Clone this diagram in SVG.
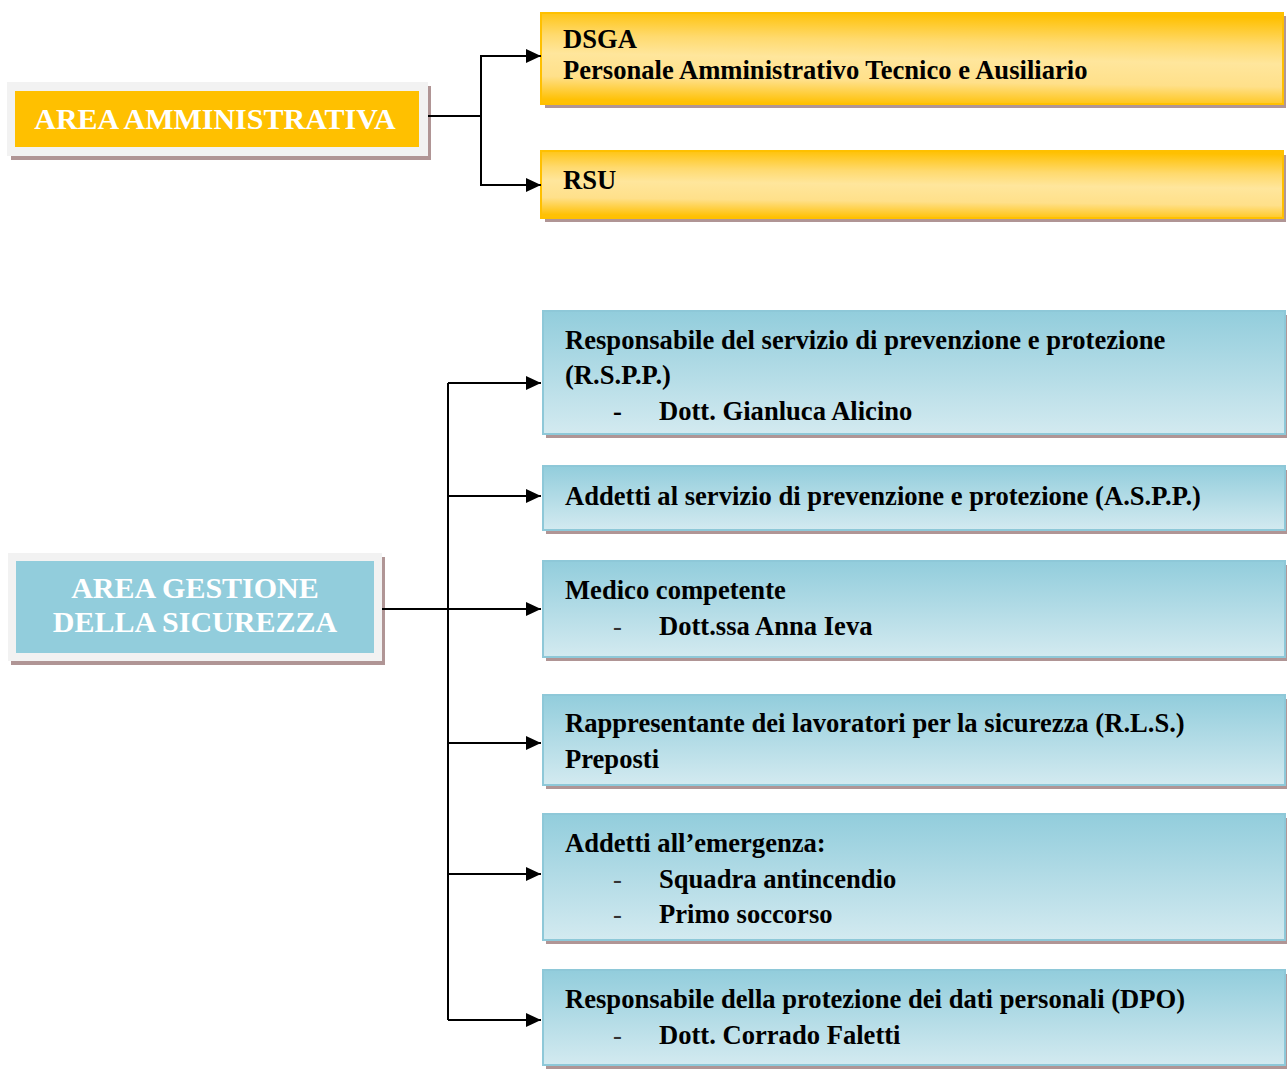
<svg xmlns="http://www.w3.org/2000/svg" width="1287" height="1072" viewBox="0 0 1287 1072">
<defs>
<linearGradient id="gy" x1="0.56" y1="0" x2="0.44" y2="1">
<stop offset="0" stop-color="#ffc000"/>
<stop offset="0.3" stop-color="#ffda6e"/>
<stop offset="0.5" stop-color="#ffe69c"/>
<stop offset="0.75" stop-color="#ffe08a"/>
<stop offset="1" stop-color="#ffc105"/>
</linearGradient>
<linearGradient id="gb" x1="0" y1="0" x2="0" y2="1">
<stop offset="0" stop-color="#92cddc"/>
<stop offset="1" stop-color="#d3eaf0"/>
</linearGradient>
<marker id="ah" viewBox="0 0 15 14" refX="15" refY="7" markerWidth="15" markerHeight="14" markerUnits="userSpaceOnUse" orient="auto">
<path d="M0,0 L15,7 L0,14 z" fill="#000"/>
</marker>
<style>
.sh{fill:#b09595}
.yb{fill:url(#gy);stroke:#ffc000;stroke-width:2}
.bb{fill:url(#gb);stroke:#8ec8d8;stroke-width:2}
.t{font-family:"Liberation Serif","Times New Roman",serif;font-weight:bold;font-size:26.6px;fill:#000}
.d{font-family:"Liberation Serif","Times New Roman",serif;font-size:26.6px;fill:#333}
.w{font-family:"Liberation Serif","Times New Roman",serif;font-weight:bold;font-size:30px;fill:#fff;text-anchor:middle}
.c{fill:none;stroke:#000;stroke-width:2}
</style>
</defs>

<g id="area-amministrativa">
<rect class="sh" x="11" y="86" width="420" height="74"/>
<rect x="7" y="82" width="421" height="74" fill="#f2f2f2"/>
<rect x="15" y="91" width="404" height="56" fill="#ffc000"/>
<text class="w" x="215" y="129">AREA AMMINISTRATIVA</text>
</g>

<g id="dsga">
<rect class="sh" x="545" y="16" width="741" height="92"/>
<rect class="yb" x="541" y="13" width="742" height="91"/>
<text class="t" x="563" y="48">DSGA</text>
<text class="t" x="563" y="79">Personale Amministrativo Tecnico e Ausiliario</text>
</g>

<g id="rsu">
<rect class="sh" x="545" y="155" width="741" height="67"/>
<rect class="yb" x="541" y="151" width="742" height="67"/>
<text class="t" x="563" y="189">RSU</text>
</g>

<g id="area-sicurezza">
<rect class="sh" x="11" y="557" width="374" height="108"/>
<rect x="8" y="553" width="374" height="108" fill="#f2f2f2"/>
<rect x="16" y="561" width="358" height="92" fill="#92cddc"/>
<text class="w" x="195" y="598">AREA GESTIONE</text>
<text class="w" x="195" y="632">DELLA SICUREZZA</text>
</g>

<g id="rspp">
<rect class="sh" x="546" y="315" width="741" height="123"/>
<rect class="bb" x="543" y="311" width="742" height="123"/>
<text class="t" x="565" y="349">Responsabile del servizio di prevenzione e protezione</text>
<text class="t" x="565" y="384">(R.S.P.P.)</text>
<text class="t" x="613" y="420">-</text>
<text class="t" x="659" y="420">Dott. Gianluca Alicino</text>
</g>

<g id="aspp">
<rect class="sh" x="546" y="470" width="741" height="64"/>
<rect class="bb" x="543" y="466" width="742" height="64"/>
<text class="t" x="565" y="505">Addetti al servizio di prevenzione e protezione (A.S.P.P.)</text>
</g>

<g id="medico">
<rect class="sh" x="546" y="565" width="741" height="96"/>
<rect class="bb" x="543" y="561" width="742" height="96"/>
<text class="t" x="565" y="599">Medico competente</text>
<text class="d" x="613" y="635">-</text>
<text class="t" x="659" y="635">Dott.ssa Anna Ieva</text>
</g>

<g id="rls">
<rect class="sh" x="546" y="699" width="741" height="90"/>
<rect class="bb" x="543" y="695" width="742" height="90"/>
<text class="t" x="565" y="732">Rappresentante dei lavoratori per la sicurezza (R.L.S.)</text>
<text class="t" x="565" y="768">Preposti</text>
</g>

<g id="emergenza">
<rect class="sh" x="546" y="818" width="741" height="126"/>
<rect class="bb" x="543" y="814" width="742" height="126"/>
<text class="t" x="565" y="852">Addetti all’emergenza:</text>
<text class="d" x="613" y="888">-</text>
<text class="t" x="659" y="888">Squadra antincendio</text>
<text class="d" x="613" y="923">-</text>
<text class="t" x="659" y="923">Primo soccorso</text>
</g>

<g id="dpo">
<rect class="sh" x="546" y="974" width="741" height="95"/>
<rect class="bb" x="543" y="970" width="742" height="95"/>
<text class="t" x="565" y="1008">Responsabile della protezione dei dati personali (DPO)</text>
<text class="d" x="613" y="1044">-</text>
<text class="t" x="659" y="1044">Dott. Corrado Faletti</text>
</g>

<g id="connectors">
<path class="c" d="M428,116 H481 V56 H541" marker-end="url(#ah)"/>
<path class="c" d="M481,116 V185 H541" marker-end="url(#ah)"/>
<path class="c" d="M382,609 H541" marker-end="url(#ah)"/>
<path class="c" d="M448,383 V1020"/>
<path class="c" d="M448,383 H541" marker-end="url(#ah)"/>
<path class="c" d="M448,496 H541" marker-end="url(#ah)"/>
<path class="c" d="M448,743 H541" marker-end="url(#ah)"/>
<path class="c" d="M448,874 H541" marker-end="url(#ah)"/>
<path class="c" d="M448,1020 H541" marker-end="url(#ah)"/>
</g>
</svg>
